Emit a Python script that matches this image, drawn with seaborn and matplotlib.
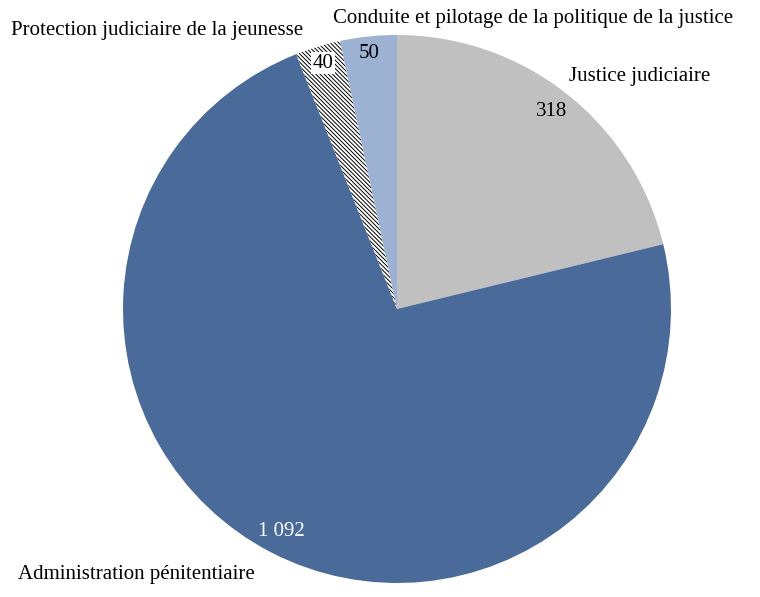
import matplotlib
matplotlib.use("Agg")
import matplotlib.pyplot as plt
import seaborn as sns

# données (millions d'euros)
categories = ["Justice judiciaire", "Administration pénitentiaire",
              "Protection judiciaire de la jeunesse",
              "Conduite et pilotage de la politique de la justice"]
values = [318, 1092, 40, 50]
value_labels = ["318", "1 092", "40", "50"]
colors = ["#C0C0C0", "#4A6A9A", "#FFFFFF", "#9DB1D3"]

sns.set_theme(style="white")
plt.rcParams["font.family"] = ["Liberation Serif", "DejaVu Serif"]
plt.rcParams["hatch.linewidth"] = 0.7

fig = plt.figure(figsize=(7.6, 5.97), dpi=100)
ax = fig.add_axes([0, 0, 1, 1])

wedges, _ = ax.pie(values, colors=colors, startangle=90, counterclock=False,
                   center=(397, 288), radius=274,
                   wedgeprops=dict(linewidth=0))
wedges[2].set_hatch("\\" * 8)
wedges[2].set_edgecolor("black")
wedges[2].set_linewidth(0)

# le camembert remet les limites : on les fixe après
ax.set_xlim(0, 760)
ax.set_ylim(0, 597)
ax.set_aspect("equal")
ax.axis("off")

fs = 15
# étiquettes de catégories
cat_pos = [(569, 520), (18, 23), (11, 567), (333, 579)]
for name, (x, y) in zip(categories, cat_pos):
    ax.text(x, y, name, ha="left", va="center", fontsize=fs, color="black")

# étiquettes de valeurs
val_pos = [(552, 485), (281, 66), (323, 534), (369, 543)]
val_col = ["black", "white", "black", "black"]
for i, (lab, (x, y)) in enumerate(zip(value_labels, val_pos)):
    bbox = dict(facecolor="white", edgecolor="none", pad=1) if i == 2 else None
    ax.text(x, y, lab, ha="center", va="center", fontsize=fs,
            color=val_col[i], bbox=bbox)

fig.savefig("out.png", dpi=100)
